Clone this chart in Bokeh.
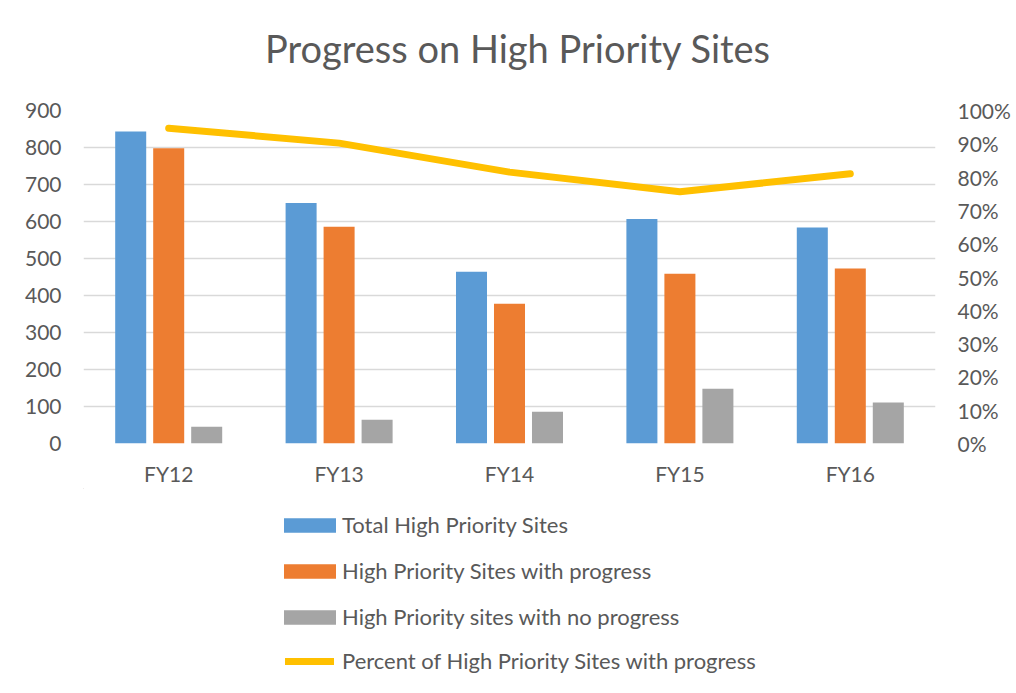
from bokeh.plotting import figure
from bokeh.layouts import column
from bokeh.models import (Range1d, LinearAxis, FactorRange, Legend, LegendItem, Label,
                          NumeralTickFormatter, SingleIntervalTicker, ColumnDataSource)
from bokeh.transform import dodge
from bokeh.embed import file_html
from bokeh.resources import INLINE

# ---- data ----
years = ["FY12", "FY13", "FY14", "FY15", "FY16"]
total_sites = [843, 650, 464, 607, 584]
with_progress = [798, 586, 378, 459, 473]
no_progress = [45, 64, 86, 148, 111]
pct_progress = [0.947, 0.902, 0.815, 0.756, 0.810]

title_text = "Progress on High Priority Sites"
series_names = ["Total High Priority Sites",
                "High Priority Sites with progress",
                "High Priority sites with no progress",
                "Percent of High Priority Sites with progress"]
series_colors = ["#5B9BD5", "#ED7D31", "#A5A5A5", "#FFC000"]

FONT = "Lato"
TXT = "#595959"
GRID = "#D9D9D9"
W = 1016


def blank(height):
    f = figure(width=W, height=height, output_backend="svg", toolbar_location=None,
               x_axis_type=None, y_axis_type=None, min_border=0, title=None,
               x_range=Range1d(83, 935), y_range=Range1d(height, 0))
    f.outline_line_color = None
    f.xgrid.grid_line_color = None
    f.ygrid.grid_line_color = None
    return f


# ---- title panel ----
tf = blank(80)
tf.add_layout(Label(x=517.5, y=47, text=title_text, text_align="center",
                    text_baseline="middle", text_font=FONT,
                    text_font_size="38px", text_color=TXT))

# ---- main chart ----
src = ColumnDataSource(dict(year=years, total=total_sites, prog=with_progress,
                            noprog=no_progress, pct=pct_progress))

p = figure(width=W, height=408, x_range=FactorRange(*years, range_padding=0),
           y_range=Range1d(0, 900), output_backend="svg", toolbar_location=None,
           title=None, min_border_left=83, min_border_right=81, min_border_top=30,
           min_border_bottom=45)
p.extra_y_ranges = {"pct": Range1d(0, 1)}
p.outline_line_color = None

w = 0.182
off = 0.223
r1 = p.vbar(x=dodge("year", -off, range=p.x_range), top="total", width=w, source=src,
            fill_color=series_colors[0], line_color=None)
r2 = p.vbar(x=dodge("year", 0, range=p.x_range), top="prog", width=w, source=src,
            fill_color=series_colors[1], line_color=None)
r3 = p.vbar(x=dodge("year", off, range=p.x_range), top="noprog", width=w, source=src,
            fill_color=series_colors[2], line_color=None)
r4 = p.line(x="year", y="pct", source=src, y_range_name="pct",
            line_color=series_colors[3], line_width=7, line_cap="round", line_join="round")

p.yaxis.ticker = SingleIntervalTicker(interval=100)
ry = LinearAxis(y_range_name="pct", ticker=SingleIntervalTicker(interval=0.1),
                formatter=NumeralTickFormatter(format="0%"))
p.add_layout(ry, "right")

for ax in [p.yaxis[0], ry, p.xaxis[0]]:
    ax.axis_line_color = None
    ax.major_tick_line_color = None
    ax.minor_tick_line_color = None
    ax.major_tick_out = 0
    ax.major_tick_in = 0
    ax.minor_tick_out = 0
    ax.major_label_text_font = FONT
    ax.major_label_text_font_size = "21px"
    ax.major_label_text_color = TXT
p.yaxis[0].major_label_standoff = 22
ry.major_label_standoff = 22
p.xaxis[0].major_label_standoff = 17

p.xgrid.grid_line_color = None
p.ygrid.grid_line_color = GRID
p.ygrid.grid_line_width = 1.5

# ---- legend panel ----
lg = blank(205)
# proxies placed outside the visible range: only their legend swatches show
lr1 = lg.vbar(x=[-500], top=[-400], bottom=[-500], width=1,
              fill_color=series_colors[0], line_color=None)
lr2 = lg.vbar(x=[-500], top=[-400], bottom=[-500], width=1,
              fill_color=series_colors[1], line_color=None)
lr3 = lg.vbar(x=[-500], top=[-400], bottom=[-500], width=1,
              fill_color=series_colors[2], line_color=None)
lr4 = lg.line(x=[-500, -400], y=[-500, -500], line_color=series_colors[3],
              line_width=7, line_cap="round")

common = dict(orientation="vertical", padding=0, margin=0, label_height=26,
              spacing=19, border_line_color=None, background_fill_alpha=0,
              label_text_font=FONT, label_text_font_size="22px",
              label_text_color=TXT)
bar_legend = Legend(items=[LegendItem(label=series_names[0], renderers=[lr1]),
                           LegendItem(label=series_names[1], renderers=[lr2]),
                           LegendItem(label=series_names[2], renderers=[lr3])],
                    location=(194, 63), glyph_width=65, glyph_height=18,
                    label_standoff=0, **common)
line_legend = Legend(items=[LegendItem(label=series_names[3], renderers=[lr4])],
                     location=(202, 19), glyph_width=49, glyph_height=18,
                     label_standoff=8, **common)
lg.add_layout(bar_legend, "center")
lg.add_layout(line_legend, "center")

layout = column(tf, p, lg, spacing=0)
open("out.html", "w").write(file_html(layout, INLINE))
